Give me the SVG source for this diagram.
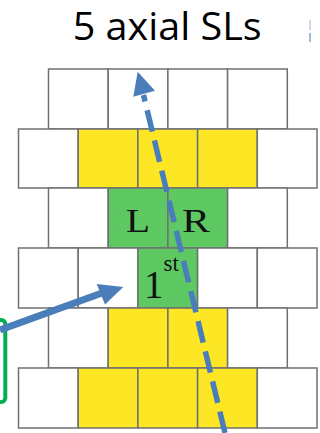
<svg xmlns="http://www.w3.org/2000/svg" width="320" height="433" viewBox="0 0 320 433">
<style>
.c{stroke:#707070;stroke-width:1.5}
.w{fill:#ffffff}
.y{fill:#fde725}
.g{fill:#5ec962}
.lbl{font-family:"Liberation Serif","DejaVu Serif",serif;fill:#111}
.blue{stroke:#4a7ebb;fill:none}
</style>
<rect width="320" height="433" fill="#ffffff"/>
<text x="72.7" y="40" font-family="Open Sans, Liberation Sans, sans-serif" font-size="38" textLength="189" lengthAdjust="spacingAndGlyphs" fill="#000">5 axial SLs</text>
<g id="fragment">
<line x1="310" y1="20" x2="310" y2="30" stroke="#4a7ebb" stroke-width="1" opacity="0.6"/>
<line x1="310" y1="33" x2="310" y2="42" stroke="#4a7ebb" stroke-width="1.3" opacity="0.8"/>
</g>
<g id="row1">
<rect id="r1c1" class="c w" x="48.5" y="69" width="59.7" height="60"/>
<rect id="r1c2" class="c w" x="108.2" y="69" width="59.7" height="60"/>
<rect id="r1c3" class="c w" x="167.9" y="69" width="59.7" height="60"/>
<rect id="r1c4" class="c w" x="227.6" y="69" width="59.7" height="60"/>
</g>
<g id="row2">
<rect id="r2c1" class="c w" x="18.5" y="129" width="59.7" height="59"/>
<rect id="r2c2" class="c y" x="78.2" y="129" width="59.7" height="59"/>
<rect id="r2c3" class="c y" x="137.9" y="129" width="59.7" height="59"/>
<rect id="r2c4" class="c y" x="197.6" y="129" width="59.7" height="59"/>
<rect id="r2c5" class="c w" x="257.3" y="129" width="59.7" height="59"/>
</g>
<g id="row3">
<rect id="r3c1" class="c w" x="48.5" y="188" width="59.7" height="60"/>
<g id="nodeL"><rect class="c g" x="108.2" y="188" width="59.7" height="60"/><text class="lbl" x="138" y="232" font-size="34" text-anchor="middle" textLength="24" lengthAdjust="spacingAndGlyphs">L</text></g>
<g id="nodeR"><rect class="c g" x="167.9" y="188" width="59.7" height="60"/><text class="lbl" x="196" y="232" font-size="34" text-anchor="middle" textLength="28" lengthAdjust="spacingAndGlyphs">R</text></g>
<rect id="r3c4" class="c w" x="227.6" y="188" width="59.7" height="60"/>
</g>
<g id="row4">
<rect id="r4c1" class="c w" x="18.5" y="248" width="59.7" height="60"/>
<rect id="r4c2" class="c w" x="78.2" y="248" width="59.7" height="60"/>
<g id="node1st"><rect class="c g" x="137.9" y="248" width="59.7" height="60"/><text class="lbl" x="144" y="298" font-size="39">1<tspan font-size="23" dy="-27">st</tspan></text></g>
<rect id="r4c4" class="c w" x="197.6" y="248" width="59.7" height="60"/>
<rect id="r4c5" class="c w" x="257.3" y="248" width="59.7" height="60"/>
</g>
<g id="row5">
<rect id="r5c1" class="c w" x="48.5" y="308" width="59.7" height="60"/>
<rect id="r5c2" class="c y" x="108.2" y="308" width="59.7" height="60"/>
<rect id="r5c3" class="c y" x="167.9" y="308" width="59.7" height="60"/>
<rect id="r5c4" class="c w" x="227.6" y="308" width="59.7" height="60"/>
</g>
<g id="row6">
<rect id="r6c1" class="c w" x="18.5" y="368" width="59.7" height="60"/>
<rect id="r6c2" class="c y" x="78.2" y="368" width="59.7" height="60"/>
<rect id="r6c3" class="c y" x="137.9" y="368" width="59.7" height="60"/>
<rect id="r6c4" class="c y" x="197.6" y="368" width="59.7" height="60"/>
<rect id="r6c5" class="c w" x="257.3" y="368" width="59.7" height="60"/>
</g>
<g id="greenbox">
<rect x="-20" y="320" width="25.3" height="82" rx="4" fill="none" stroke="#00b050" stroke-width="4"/>
</g>
<g id="connectors">
<line class="blue" x1="0" y1="330" x2="102" y2="293" stroke-width="7"/>
<polygon points="123.3,287 96.7,284 105,304.5" fill="#4a7ebb"/>
<line class="blue" x1="225" y1="433" x2="143.5" y2="95" stroke-width="5.5" stroke-dasharray="22 9"/>
<polygon points="137.7,71.7 133.3,96.7 155,90.7" fill="#4a7ebb"/>
</g>
</svg>
